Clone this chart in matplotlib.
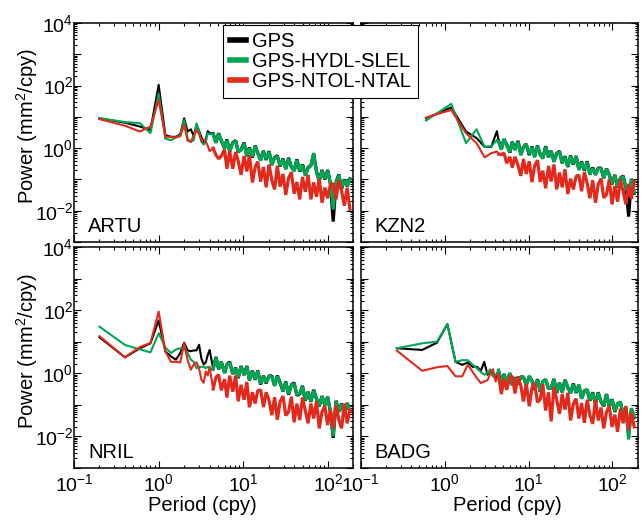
import numpy as np
import matplotlib
matplotlib.use("Agg")
import matplotlib.pyplot as plt
from matplotlib.lines import Line2D
from matplotlib.ticker import LogLocator, FuncFormatter, NullFormatter

plt.rcParams["font.family"] = ["Liberation Sans", "DejaVu Sans"]
plt.rcParams["mathtext.fontset"] = "custom"
plt.rcParams["mathtext.rm"] = "Liberation Sans"
plt.rcParams["mathtext.it"] = "Liberation Sans:italic"
plt.rcParams["mathtext.bf"] = "Liberation Sans:bold"

# ── frequencies (cpy) ────────────────────────────────────────────────────
FREQ_HF = [4.4, 4.75, 5.1, 5.5, 6.0, 6.4, 6.9, 7.5, 8.1, 8.7,
           9.4, 10.2, 11.0, 11.8, 12.8, 13.8, 14.8, 16.0, 17.3, 18.6,
           20.1, 21.7, 23.4, 25.2, 27.2, 29.4, 31.7, 34.2, 36.9, 39.8,
           42.9, 46.3, 50.0, 53.9, 58.2, 62.8, 67.7, 73.1, 78.8, 85.0,
           91.7, 99.0, 106.8, 115.2, 124.3, 134.1, 144.7, 156.1, 168.4, 181.7]

ARTU_FREQ = [0.2, 0.4, 0.6, 0.8, 1.0, 1.2, 1.4, 1.6, 1.8, 2.0,
             2.2, 2.4, 2.6, 2.8, 3.0, 3.2, 3.4, 3.6, 3.8, 4.0] + FREQ_HF
KZN2_FREQ = [0.6, 1.2, 1.8, 2.4, 3.0, 3.6, 4.2] + FREQ_HF
NRIL_FREQ = [0.2, 0.4, 0.6, 0.8, 1.0, 1.2, 1.4, 1.6, 1.8, 2.0,
             2.2, 2.4, 2.6, 2.8, 3.0, 3.2, 3.4, 3.6, 3.8, 4.0] + FREQ_HF
BADG_FREQ = [0.27, 0.54, 0.81, 1.08, 1.35, 1.62, 1.89, 2.16, 2.43, 2.7,
             2.97, 3.24, 3.51, 3.78, 4.05] + FREQ_HF

# ── power spectra (mm^2/cpy) ─────────────────────────────────────────────
ARTU_GPS = [9.0, 6.5, 4.9, 3.8, 105, 2.6, 2.3, 2.3, 2.8, 9.0,
            3.4, 4.0, 2.4, 5.6, 3.6, 2.2, 1.5, 1.9, 3.5, 3.0] + [
            2.9, 1.5, 3.0, 1.7, 1.0, 1.9, 0.8, 1.5, 1.75, 0.75,
            0.9, 1.5, 0.55, 1.05, 0.5, 1.2, 0.7, 0.42, 0.82, 0.42,
            0.8, 0.3, 0.5, 0.58, 0.26, 0.46, 0.22, 0.49, 0.25, 0.19,
            0.44, 0.18, 0.3, 0.14, 0.24, 0.28, 0.65, 0.18, 0.09, 0.2,
            0.1, 0.2, 0.072, 0.0045, 0.08, 0.145, 0.05, 0.1, 0.06, 0.105]
ARTU_HYDL = [9.0, 6.8, 6.3, 3.0, 56, 2.0, 1.8, 2.2, 2.6, 7.9,
             2.0, 1.6, 1.8, 6.2, 3.4, 1.6, 1.3, 1.6, 3.0, 2.8] + [
             2.8, 1.47, 2.9, 1.8, 0.98, 1.8, 0.77, 1.44, 1.68, 0.78,
             0.85, 1.42, 0.53, 1.0, 0.53, 1.15, 0.67, 0.4, 0.79, 0.44,
             0.77, 0.28, 0.48, 0.56, 0.27, 0.44, 0.21, 0.47, 0.26, 0.18,
             0.42, 0.19, 0.29, 0.13, 0.23, 0.27, 0.7, 0.17, 0.087, 0.19,
             0.105, 0.19, 0.075, 0.011, 0.076, 0.14, 0.055, 0.095, 0.062, 0.1]
ARTU_NTOL = [8.5, 5.2, 3.4, 4.9, 35, 2.3, 2.3, 2.2, 2.4, 5.5,
             1.7, 1.6, 2.6, 3.8, 2.8, 1.7, 1.9, 1.6, 1.2, 0.8] + [
             1.0, 0.6, 0.46, 0.56, 0.9, 0.22, 0.8, 0.22, 0.75, 0.39,
             0.14, 0.56, 0.18, 0.6, 0.08, 0.25, 0.37, 0.085, 0.25, 0.056,
             0.3, 0.095, 0.048, 0.275, 0.059, 0.15, 0.032, 0.11, 0.17, 0.035,
             0.083, 0.023, 0.12, 0.04, 0.14, 0.023, 0.08, 0.028, 0.106, 0.018,
             0.055, 0.025, 0.068, 0.074, 0.023, 0.096, 0.043, 0.0145, 0.054, 0.011]

KZN2_GPS = [9.0, 20, 3.4, 2.1, 1.1, 1.1, 3.5] + [
            1.7, 0.95, 1.9, 1.3, 0.72, 1.6, 0.9, 1.7, 0.62, 1.1,
            1.35, 0.6, 1.12, 0.55, 1.2, 0.62, 0.48, 1.15, 0.52, 0.82,
            0.38, 0.68, 0.8, 0.33, 0.55, 0.25, 0.58, 0.3, 0.56, 0.21,
            0.37, 0.19, 0.38, 0.15, 0.24, 0.14, 0.23, 0.23, 0.11, 0.22,
            0.14, 0.07, 0.14, 0.055, 0.11, 0.13, 0.055, 0.0065, 0.105, 0.036]
KZN2_HYDL = [7.6, 26, 1.45, 4.0, 1.1, 1.15, 1.8] + [
             1.63, 0.89, 2.0, 1.23, 0.75, 1.54, 0.87, 1.61, 0.59, 1.06,
             1.31, 0.64, 1.07, 0.51, 1.16, 0.65, 0.46, 1.1, 0.5, 0.79,
             0.36, 0.65, 0.77, 0.34, 0.52, 0.26, 0.56, 0.31, 0.54, 0.2,
             0.35, 0.2, 0.36, 0.14, 0.23, 0.145, 0.22, 0.22, 0.113, 0.217,
             0.134, 0.073, 0.135, 0.057, 0.106, 0.124, 0.058, 0.03, 0.103, 0.038]
KZN2_NTOL = [9.5, 16.6, 3.0, 1.45, 0.51, 0.69, 0.78] + [
             0.65, 0.62, 0.7, 0.33, 0.53, 0.24, 0.53, 0.28, 0.13, 0.45,
             0.15, 0.38, 0.082, 0.27, 0.41, 0.083, 0.19, 0.052, 0.27, 0.086,
             0.3, 0.048, 0.165, 0.056, 0.21, 0.034, 0.106, 0.048, 0.125, 0.138,
             0.042, 0.17, 0.075, 0.025, 0.094, 0.018, 0.07, 0.106, 0.026, 0.033,
             0.1, 0.016, 0.062, 0.0195, 0.1, 0.041, 0.016, 0.072, 0.024, 0.088]

NRIL_GPS = [13.8, 3.2, 6.2, 8.9, 47, 4.9, 3.4, 2.7, 4.4, 9.3,
            5.3, 5.0, 5.3, 5.3, 8.0, 2.9, 1.9, 2.2, 3.8, 5.5] + [
            1.4, 3.3, 1.35, 2.3, 1.05, 1.9, 2.3, 0.95, 1.5, 0.7,
            1.7, 0.88, 1.7, 0.6, 1.2, 0.62, 1.22, 0.44, 0.83, 0.48,
            0.82, 0.83, 0.4, 0.85, 0.5, 0.27, 0.55, 0.21, 0.43, 0.5,
            0.2, 0.22, 0.4, 0.135, 0.26, 0.125, 0.3, 0.155, 0.09, 0.19,
            0.098, 0.18, 0.06, 0.009, 0.135, 0.06, 0.11, 0.047, 0.115, 0.06]
NRIL_HYDL = [30, 7.9, 5.7, 4.6, 18.6, 6.5, 4.4, 5.7, 6.2, 6.2,
             4.4, 2.7, 2.3, 1.45, 1.6, 1.6, 1.6, 1.45, 1.6, 1.45] + [
             1.32, 3.15, 1.42, 2.24, 1.0, 1.82, 2.17, 0.97, 1.44, 0.73,
             1.64, 0.91, 1.63, 0.63, 1.13, 0.64, 1.18, 0.46, 0.79, 0.5,
             0.79, 0.79, 0.41, 0.81, 0.52, 0.28, 0.53, 0.22, 0.41, 0.47,
             0.21, 0.23, 0.38, 0.14, 0.25, 0.13, 0.28, 0.16, 0.094, 0.185,
             0.1, 0.174, 0.062, 0.01, 0.13, 0.062, 0.105, 0.049, 0.11, 0.062]
NRIL_NTOL = [15, 3.2, 6.8, 9.2, 90, 4.9, 2.3, 2.3, 2.2, 9.0,
             2.6, 1.3, 1.9, 2.2, 1.45, 0.62, 0.5, 1.15, 0.85, 1.6] + [
             0.32, 0.75, 0.9, 0.29, 0.65, 0.17, 0.84, 0.26, 0.85, 0.13,
             0.43, 0.145, 0.53, 0.084, 0.25, 0.11, 0.28, 0.3, 0.085, 0.25,
             0.144, 0.047, 0.174, 0.034, 0.128, 0.19, 0.046, 0.06, 0.18, 0.028,
             0.109, 0.033, 0.17, 0.066, 0.026, 0.11, 0.037, 0.13, 0.018, 0.06,
             0.092, 0.023, 0.07, 0.018, 0.099, 0.034, 0.018, 0.11, 0.026, 0.07]

BADG_GPS = [6.2, 5.5, 9.3, 36, 2.3, 1.85, 2.2, 1.6, 1.6, 1.2,
            2.3, 0.9, 1.3, 0.8, 0.75] + [
            1.2, 0.5, 0.95, 0.5, 1.0, 0.43, 0.74, 0.45, 0.78, 0.75,
            0.42, 0.8, 0.58, 0.3, 0.65, 0.26, 0.55, 0.62, 0.33, 0.34,
            0.66, 0.24, 0.5, 0.25, 0.62, 0.35, 0.24, 0.47, 0.24, 0.42,
            0.16, 0.28, 0.3, 0.135, 0.25, 0.105, 0.25, 0.125, 0.09, 0.22,
            0.09, 0.15, 0.06, 0.11, 0.12, 0.05, 0.078, 0.012, 0.075, 0.04]
BADG_HYDL = [6.2, 8.9, 10, 36, 2.3, 2.6, 2.6, 1.85, 1.45, 1.1,
             0.9, 1.0, 1.3, 0.8, 0.85] + [
             1.26, 0.51, 0.92, 0.53, 1.03, 0.41, 0.71, 0.47, 0.75, 0.78,
             0.41, 0.83, 0.55, 0.32, 0.62, 0.27, 0.53, 0.65, 0.32, 0.36,
             0.63, 0.25, 0.48, 0.26, 0.6, 0.37, 0.23, 0.45, 0.25, 0.44,
             0.156, 0.27, 0.31, 0.14, 0.24, 0.11, 0.24, 0.13, 0.092, 0.216,
             0.095, 0.145, 0.063, 0.108, 0.125, 0.053, 0.076, 0.008, 0.079, 0.042]
BADG_NTOL = [5.2, 1.2, 1.55, 1.7, 0.8, 0.8, 1.85, 1.1, 0.7, 0.49,
             0.55, 0.6, 1.0, 1.35, 0.55] + [
             0.9, 0.22, 0.67, 0.3, 0.77, 0.8, 0.23, 0.8, 0.4, 0.128,
             0.47, 0.09, 0.34, 0.5, 0.12, 0.15, 0.45, 0.066, 0.25, 0.03,
             0.37, 0.14, 0.052, 0.22, 0.071, 0.24, 0.032, 0.105, 0.158, 0.037,
             0.114, 0.027, 0.145, 0.047, 0.025, 0.146, 0.032, 0.082, 0.018, 0.06,
             0.092, 0.02, 0.049, 0.014, 0.076, 0.026, 0.092, 0.016, 0.056, 0.02]

SERIES_LABELS = ["GPS", "GPS-HYDL-SLEL", "GPS-NTOL-NTAL"]
SERIES_COLORS = ["#000000", "#00A651", "#E2291C"]

STATIONS = [
    ("ARTU", ARTU_FREQ, [ARTU_GPS, ARTU_HYDL, ARTU_NTOL]),
    ("KZN2", KZN2_FREQ, [KZN2_GPS, KZN2_HYDL, KZN2_NTOL]),
    ("NRIL", NRIL_FREQ, [NRIL_GPS, NRIL_HYDL, NRIL_NTOL]),
    ("BADG", BADG_FREQ, [BADG_GPS, BADG_HYDL, BADG_NTOL]),
]

# axes rectangles in figure fraction (left, bottom, width, height)
RECTS = [
    (0.1149, 0.5346, 0.4340, 0.4212),
    (0.5601, 0.5346, 0.4301, 0.4212),
    (0.1149, 0.1000, 0.4340, 0.4250),
    (0.5601, 0.1000, 0.4301, 0.4250),
]
XLABEL_X = [0.46, 0.53]

FS = 14.5
N_HF = len(FREQ_HF)


def even_decades(v, pos):
    e = int(round(np.log10(v)))
    return f"$10^{{{e}}}$" if e % 2 == 0 else ""


def all_decades(v, pos):
    e = int(round(np.log10(v)))
    return f"$10^{{{e}}}$"


def main():
    fig = plt.figure(figsize=(6.44, 5.2), dpi=100)
    fig.patch.set_facecolor("white")

    for k, ((name, freq, spectra), rect) in enumerate(zip(STATIONS, RECTS)):
        ax = fig.add_axes(rect)
        n_lo = len(freq) - N_HF
        for vals, col in zip(spectra, SERIES_COLORS):
            # low-frequency part: thin line; dense high-frequency part: heavier stroke
            ax.loglog(freq[:n_lo + 1], vals[:n_lo + 1], color=col, lw=1.5)
            ax.loglog(freq[n_lo:], vals[n_lo:], color=col, lw=2.3,
                      solid_joinstyle="bevel")
        ax.set_xlim(0.1, 200)
        ax.set_ylim(1e-3, 1e4)

        ax.xaxis.set_major_locator(LogLocator(base=10, numticks=20))
        ax.xaxis.set_minor_locator(LogLocator(base=10, subs=np.arange(2, 10), numticks=100))
        ax.yaxis.set_major_locator(LogLocator(base=10, numticks=20))
        ax.yaxis.set_minor_locator(LogLocator(base=10, subs=np.arange(2, 10), numticks=100))
        ax.tick_params(which="both", direction="in", top=True, right=True,
                       width=0.8, labelsize=FS - 0.5)
        ax.tick_params(axis="y", pad=0.5)
        ax.tick_params(axis="x", pad=4)
        ax.tick_params(which="major", length=5)
        ax.tick_params(which="minor", length=2.5)
        for sp in ax.spines.values():
            sp.set_linewidth(1.1)

        col = k % 2
        row = k // 2
        if col == 0:
            ax.yaxis.set_major_formatter(FuncFormatter(even_decades))
            ax.set_ylabel("Power (mm$^2$/cpy)", fontsize=FS)
            ax.yaxis.set_label_coords(-0.12, 0.53)
        else:
            ax.yaxis.set_major_formatter(NullFormatter())
        ax.yaxis.set_minor_formatter(NullFormatter())
        if row == 1:
            ax.xaxis.set_major_formatter(FuncFormatter(all_decades))
            ax.set_xlabel("Period (cpy)", fontsize=FS)
            ax.xaxis.set_label_coords(XLABEL_X[col], -0.128)
        else:
            ax.xaxis.set_major_formatter(NullFormatter())
        ax.xaxis.set_minor_formatter(NullFormatter())

        ax.text(0.05, 0.046, name, transform=ax.transAxes,
                fontsize=FS, ha="left", va="baseline")

    handles = [Line2D([], [], color=c, lw=4) for c in SERIES_COLORS]
    leg = fig.legend(handles, SERIES_LABELS, loc="upper left",
                     bbox_to_anchor=(223 / 644, 1 - 25 / 520),
                     fontsize=FS, frameon=True, fancybox=False,
                     edgecolor="black", framealpha=1, borderaxespad=0,
                     handlelength=0.8, handletextpad=0.3, labelspacing=0.05,
                     borderpad=0.35)
    leg.get_frame().set_linewidth(0.8)

    fig.savefig("out.png", dpi=100)
    plt.close(fig)


if __name__ == "__main__":
    main()
